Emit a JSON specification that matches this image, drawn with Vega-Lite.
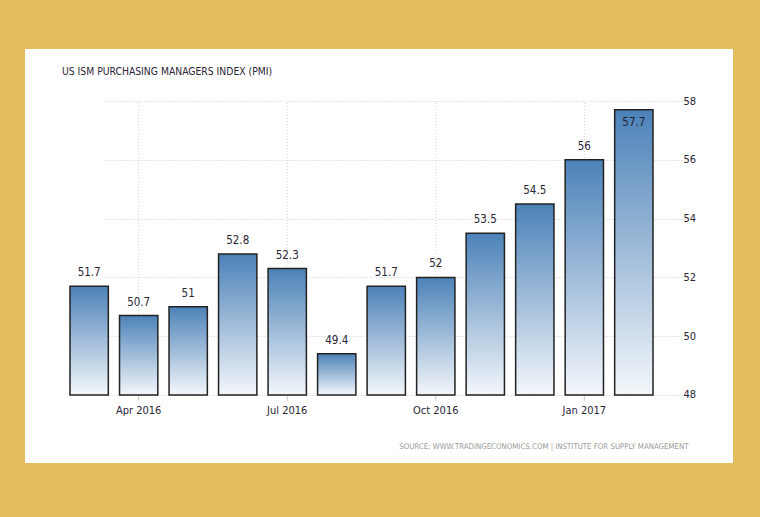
{
  "$schema": "https://vega.github.io/schema/vega-lite/v6.json",
  "autosize": {"type": "none"},
  "width": 708,
  "height": 414,
  "padding": {"left": 25, "top": 49, "right": 27, "bottom": 54},
  "background": "#e1bd5c",
  "config": {
    "view": {"fill": "white", "stroke": null},
    "font": "DejaVu Sans Condensed, Liberation Sans Narrow, Roboto Condensed, Liberation Sans, sans-serif"
  },
  "title": {
    "text": "US ISM PURCHASING MANAGERS INDEX (PMI)",
    "anchor": "start",
    "frame": "group",
    "font": "DejaVu Sans Condensed, Liberation Sans Narrow, Roboto Condensed, Liberation Sans, sans-serif",
    "fontSize": 10.3,
    "fontWeight": "normal",
    "color": "#2a2636",
    "dx": 37,
    "offset": -28
  },
  "data": {
    "values": [
      {"month": "Mar 2016", "v": 51.7},
      {"month": "Apr 2016", "v": 50.7},
      {"month": "May 2016", "v": 51},
      {"month": "Jun 2016", "v": 52.8},
      {"month": "Jul 2016", "v": 52.3},
      {"month": "Aug 2016", "v": 49.4},
      {"month": "Sep 2016", "v": 51.7},
      {"month": "Oct 2016", "v": 52},
      {"month": "Nov 2016", "v": 53.5},
      {"month": "Dec 2016", "v": 54.5},
      {"month": "Jan 2017", "v": 56},
      {"month": "Feb 2017", "v": 57.7}
    ]
  },
  "encoding": {
    "x": {
      "field": "month",
      "type": "nominal",
      "sort": null,
      "scale": {
        "domain": ["Mar 2016", "Apr 2016", "May 2016", "Jun 2016", "Jul 2016", "Aug 2016", "Sep 2016", "Oct 2016", "Nov 2016", "Dec 2016", "Jan 2017", "Feb 2017"],
        "range": [45, 628],
        "paddingInner": 0.226, "paddingOuter": 0, "round": false
      },
      "axis": {
        "orient": "bottom",
        "values": ["Apr 2016", "Jul 2016", "Oct 2016", "Jan 2017"],
        "labelAngle": 0,
        "domain": false,
        "ticks": false,
        "grid": false,
        "labelPadding": -59,
        "labelBaseline": "top",
        "labelFontSize": 11,
        "labelColor": "#2a2636",
        "title": "SOURCE: WWW.TRADINGECONOMICS.COM | INSTITUTE FOR SUPPLY MANAGEMENT",
        "titleFontSize": 7.8,
        "titleFontWeight": "normal",
        "titleColor": "#9a9a9a",
        "titleAlign": "right",
        "titleBaseline": "middle",
        "titleX": 663,
        "titleY": -17
      }
    }
  },
  "layer": [
    {
      "transform": [{"filter": {"field": "month", "oneOf": ["Apr 2016", "Jul 2016", "Oct 2016", "Jan 2017"]}}],
      "mark": {"type": "rule", "color": "#cfcfcf", "strokeDash": [1, 2], "strokeWidth": 1},
      "encoding": {
        "y": {
          "datum": 48, "type": "quantitative",
          "scale": {"domain": [45.687, 59.769], "nice": false, "zero": false},
          "axis": {
            "orient": "right",
            "values": [48, 50, 52, 54, 56, 58],
            "domain": false,
            "ticks": false,
            "grid": true,
            "gridColor": "#cfcfcf",
            "gridDash": [1, 2],
            "labelPadding": -50,
            "labelAlign": "left",
            "labelFontSize": 11,
            "labelColor": "#2a2636",
            "title": null
          }
        },
        "y2": {"datum": 58}
      }
    },
    {
      "transform": [{"filter": {"field": "month", "oneOf": ["Apr 2016", "Jul 2016", "Oct 2016", "Jan 2017"]}}],
      "mark": {"type": "rule", "color": "#c4c4c4", "strokeWidth": 1},
      "encoding": {
        "y": {"datum": 48, "type": "quantitative"},
        "y2": {"datum": 47.8}
      }
    },
    {
      "mark": {
        "type": "bar",
        "stroke": "#222222",
        "strokeWidth": 1.5,
        "fill": {
          "gradient": "linear",
          "x1": 0, "y1": 0, "x2": 0, "y2": 1,
          "stops": [
            {"offset": 0, "color": "#4c82b8"},
            {"offset": 1, "color": "#f4f7fb"}
          ]
        }
      },
      "encoding": {
        "y": {"field": "v", "type": "quantitative"},
        "y2": {"datum": 48}
      }
    },
    {
      "transform": [{"filter": "datum.v < 57"}],
      "mark": {"type": "text", "fontSize": 11.5, "color": "#2a2636", "baseline": "middle", "dy": -13},
      "encoding": {
        "y": {"field": "v", "type": "quantitative"},
        "text": {"field": "v", "type": "nominal"}
      }
    },
    {
      "transform": [{"filter": "datum.v >= 57"}],
      "mark": {"type": "text", "fontSize": 11.5, "color": "#1f2330", "baseline": "middle", "dy": 13},
      "encoding": {
        "y": {"field": "v", "type": "quantitative"},
        "text": {"field": "v", "type": "nominal"}
      }
    }
  ]
}
